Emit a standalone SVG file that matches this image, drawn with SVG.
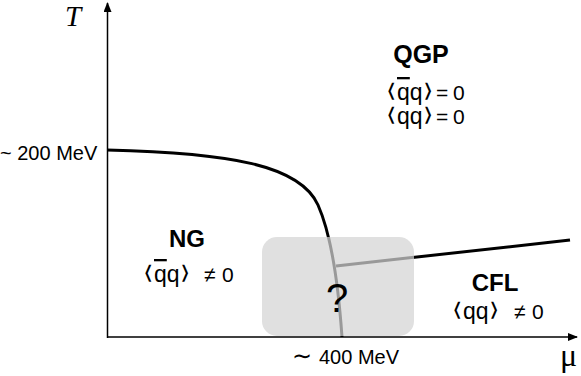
<svg xmlns="http://www.w3.org/2000/svg" width="581" height="376" viewBox="0 0 581 376">
<style>
.lbl{font-family:"Liberation Sans","DejaVu Sans",sans-serif;fill:#000}
.b{font-weight:bold}
.brk{font-family:"DejaVu Sans",sans-serif;font-size:19px;fill:#000}
.ax{stroke:#000;stroke-width:1.5;fill:none}
.blk{stroke:#000;stroke-width:3;fill:none}
.gry{stroke:#999;stroke-width:3;fill:none}
.ol{text-decoration:overline}
</style>
<defs>
<marker id="arr" markerWidth="10" markerHeight="8" refX="9" refY="4" orient="auto" markerUnits="userSpaceOnUse">
<path d="M0,0 L10,4 L0,8 Z" fill="#000"/>
</marker>
<clipPath id="boxclip"><rect x="262" y="237" width="152" height="99" rx="15"/></clipPath>
<mask id="outside" maskUnits="userSpaceOnUse" x="0" y="0" width="581" height="376">
<rect x="0" y="0" width="581" height="376" fill="#fff"/>
<rect x="262" y="237" width="152" height="99" rx="15" fill="#000"/>
</mask>
</defs>
<g id="region-box"><rect x="262" y="237" width="152" height="99" rx="15" fill="#e0e0e0"/></g>
<g id="connectors">
<line class="ax" x1="107.5" y1="338" x2="107.5" y2="3" marker-end="url(#arr)"/>
<line class="ax" x1="107" y1="337" x2="577" y2="337" marker-end="url(#arr)"/>
<g mask="url(#outside)">
<path id="crossover" class="blk" d="M107,150 C230,153 300,165 318,205 C330,232 338,280 342,337"/>
<line id="cfl-line" class="blk" x1="336" y1="266" x2="570" y2="240"/>
</g>
<g clip-path="url(#boxclip)">
<path class="gry" d="M107,150 C230,153 300,165 318,205 C330,232 338,280 342,337"/>
<line class="gry" x1="336" y1="266" x2="570" y2="240"/>
</g>
</g>
<g id="axis-T"><text x="65" y="26" font-family="Liberation Serif,serif" font-style="italic" font-size="29">T</text></g>
<g id="axis-mu"><text x="560" y="366" font-family="Liberation Serif,serif" font-size="32">μ</text></g>
<g id="tick-200"><text class="lbl" x="0" y="160" font-size="20">~ 200 MeV</text></g>
<g id="tick-400"><text class="lbl" x="292" y="364" font-size="20"><tspan font-family="DejaVu Sans,sans-serif" font-size="24">∼</tspan><tspan x="319">400 MeV</tspan></text></g>
<g id="QGP">
<text class="lbl b" x="421" y="63" font-size="25" text-anchor="middle">QGP</text>
<text class="brk" transform="translate(386,97) scale(1.4,1)">⟨</text>
<text class="lbl" x="397" y="100" font-size="23"><tspan class="ol">q</tspan>q</text>
<text class="brk" transform="translate(423,97) scale(1.4,1)">⟩</text>
<text class="lbl" x="436" y="100" font-size="21">=</text>
<text class="lbl" x="453" y="100" font-size="21">0</text>
<text class="brk" transform="translate(386,121) scale(1.4,1)">⟨</text>
<text class="lbl" x="397" y="124" font-size="23">qq</text>
<text class="brk" transform="translate(423,121) scale(1.4,1)">⟩</text>
<text class="lbl" x="436" y="124" font-size="21">=</text>
<text class="lbl" x="453" y="124" font-size="21">0</text>
</g>
<g id="NG">
<text class="lbl b" x="187" y="247" font-size="24" text-anchor="middle">NG</text>
<text class="brk" transform="translate(143,279) scale(1.4,1)">⟨</text>
<text class="lbl" x="154" y="282" font-size="23"><tspan class="ol">q</tspan>q</text>
<text class="brk" transform="translate(180,279) scale(1.4,1)">⟩</text>
<text class="lbl" x="204" y="282" font-size="21">≠</text>
<text class="lbl" x="222" y="282" font-size="21">0</text>
</g>
<g id="CFL">
<text class="lbl b" x="495" y="291" font-size="24" text-anchor="middle">CFL</text>
<text class="brk" transform="translate(452,316) scale(1.4,1)">⟨</text>
<text class="lbl" x="463" y="319" font-size="23">qq</text>
<text class="brk" transform="translate(489,316) scale(1.4,1)">⟩</text>
<text class="lbl" x="514" y="319" font-size="21">≠</text>
<text class="lbl" x="532" y="319" font-size="21">0</text>
</g>
<g id="unknown"><text class="lbl" x="337" y="312" font-size="40" text-anchor="middle">?</text></g>
</svg>
